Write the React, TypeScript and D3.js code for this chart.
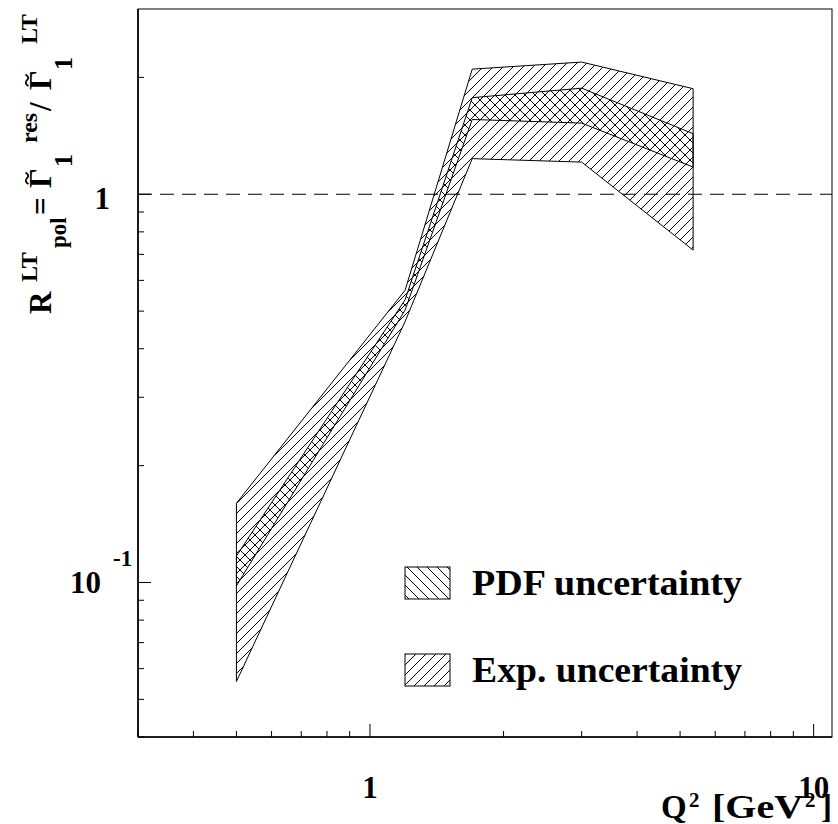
import React from 'react';
import * as d3 from 'd3';

// ---- data ----
const q2 = [0.5, 1.2, 1.7, 3.0, 5.35];
const expLow = [0.0556, 0.47, 1.235, 1.21, 0.718];
const expHigh = [0.16, 0.566, 2.1, 2.19, 1.87];
const pdfLow = [0.098, 0.503, 1.558, 1.525, 1.175];
const pdfHigh = [0.117, 0.535, 1.773, 1.876, 1.432];
const xMajor = [1, 10];
const yMajor = [0.1, 1];
const legendLabels = ['PDF uncertainty', 'Exp. uncertainty'];

const W = 838;
const H = 824;
const left = 138, right = 832, top = 9, bottom = 737;
const FONT = '"Liberation Serif", "Times New Roman", serif';

function tilde(u0: number, v0: number) {
  return `M${u0},${v0 + 1.5} Q${u0 + 2.8},${v0 - 3} ${u0 + 5.8},${v0} T${u0 + 11.6},${v0 - 1.5}`;
}

export default function App() {
  const x = d3.scaleLog().domain([0.3, 11]).range([left, right]);
  const y = d3.scaleLog().domain([0.04, 3]).range([bottom, top]);

  const xMinor: number[] = [];
  for (const d of [0.1, 1, 10]) for (let k = 1; k <= 9; k++) {
    const v = d * k;
    if (v >= 0.3 && v <= 11 && !xMajor.some((m) => Math.abs(m - v) < 1e-9)) xMinor.push(v);
  }
  const yMinor: number[] = [];
  for (const d of [0.01, 0.1, 1]) for (let k = 1; k <= 9; k++) {
    const v = d * k;
    if (v >= 0.04 && v < 3 && !yMajor.some((m) => Math.abs(m - v) < 1e-9)) yMinor.push(v);
  }

  const band = (lo: number[], hi: number[]) => {
    const pts: [number, number][] = [];
    q2.forEach((q, i) => pts.push([x(q), y(hi[i])]));
    for (let i = q2.length - 1; i >= 0; i--) pts.push([x(q2[i]), y(lo[i])]);
    return d3.line()(pts)! + 'Z';
  };

  return (
    <svg width={W} height={H} style={{ position: 'absolute', left: 0, top: 0, background: '#fff' }}>
      <defs>
        <pattern id="hExp" patternUnits="userSpaceOnUse" width="10" height="10">
          <path d="M-1,1 L1,-1 M0,10 L10,0 M9,11 L11,9" stroke="#000" strokeWidth={1} />
        </pattern>
        <pattern id="hPdf" patternUnits="userSpaceOnUse" width="10" height="10">
          <path d="M-1,9 L1,11 M0,0 L10,10 M9,-1 L11,1" stroke="#000" strokeWidth={1} />
        </pattern>
      </defs>
      <rect x={0} y={0} width={W} height={H} fill="#fff" />

      {/* bands */}
      <path d={band(expLow, expHigh)} fill="url(#hExp)" stroke="#000" strokeWidth={1} />
      <path d={band(pdfLow, pdfHigh)} fill="url(#hPdf)" stroke="#000" strokeWidth={1} />

      {/* dashed line at 1 */}
      <line x1={left} x2={right} y1={y(1)} y2={y(1)} stroke="#000" strokeWidth={1} strokeDasharray="14 8" />

      {/* frame */}
      <rect x={left} y={top} width={right - left} height={bottom - top} fill="none" stroke="#000" strokeWidth={1} />
      <line x1={left} x2={left} y1={top} y2={bottom} stroke="#000" strokeWidth={1.6} />
      <line x1={left} x2={right} y1={bottom} y2={bottom} stroke="#000" strokeWidth={1.6} />

      {/* x ticks */}
      {xMinor.map((v) => (
        <line key={'xm' + v} x1={x(v)} x2={x(v)} y1={bottom} y2={bottom - 6} stroke="#000" strokeWidth={1} />
      ))}
      {xMajor.map((v) => (
        <line key={'xM' + v} x1={x(v)} x2={x(v)} y1={bottom} y2={bottom - 13} stroke="#000" strokeWidth={1} />
      ))}
      {/* y ticks */}
      {yMinor.map((v) => (
        <line key={'ym' + v} x1={left} x2={left + 6} y1={y(v)} y2={y(v)} stroke="#000" strokeWidth={1} />
      ))}
      {yMajor.map((v) => (
        <line key={'yM' + v} x1={left} x2={left + 13} y1={y(v)} y2={y(v)} stroke="#000" strokeWidth={1} />
      ))}

      {/* x tick labels */}
      <g fontFamily={FONT} fontWeight="bold" fontSize={31} textAnchor="middle">
        {xMajor.map((v) => (
          <text key={'xl' + v} x={x(v)} y={798}>{String(v)}</text>
        ))}
      </g>
      {/* y tick labels */}
      <g fontFamily={FONT} fontWeight="bold">
        <text x={110} y={y(1) + 15} fontSize={31} textAnchor="end">1</text>
        <text x={101} y={y(0.1) + 11} fontSize={31} textAnchor="end">10</text>
        <text x={113} y={y(0.1) - 16} fontSize={23}>-1</text>
      </g>

      {/* x title: Q^2 [GeV^2] */}
      <g fontFamily={FONT} fontWeight="bold">
        <text x={661} y={818} fontSize={33}>Q</text>
        <text x={689} y={807} fontSize={21}>2</text>
        <text x={712} y={818} fontSize={33} textLength={91} lengthAdjust="spacingAndGlyphs">[GeV</text>
        <text x={805} y={807} fontSize={21}>2</text>
        <text x={832} y={818} fontSize={33} textAnchor="end">]</text>
      </g>

      {/* y title (rotated) */}
      <g transform="rotate(-90)" fontFamily={FONT} fontWeight="bold">
        <text x={-314} y={51} fontSize={31}>R</text>
        <text x={-282} y={37} fontSize={24}>LT</text>
        <text x={-248} y={66} fontSize={23}>pol</text>
        <text x={-215} y={51} fontSize={31}>=</text>
        <text x={-188} y={51} fontSize={31}>Γ</text>
        <path d={tilde(-184, 27)} fill="none" stroke="#000" strokeWidth={1.8} />
        <text x={-167} y={72} fontSize={26}>1</text>
        <text x={-143} y={37} fontSize={24}>res</text>
        <text x={-111} y={51} fontSize={31}>/</text>
        <text x={-90} y={51} fontSize={31}>Γ</text>
        <path d={tilde(-86, 27)} fill="none" stroke="#000" strokeWidth={1.8} />
        <text x={-70} y={72} fontSize={26}>1</text>
        <text x={-44} y={37} fontSize={24}>LT</text>
      </g>

      {/* legend */}
      {legendLabels.map((lab, i) => {
        const by = i === 0 ? 567 : 654;
        return (
          <g key={lab}>
            <rect x={405} y={by} width={45} height={32} fill={i === 0 ? 'url(#hPdf)' : 'url(#hExp)'} stroke="#000" strokeWidth={1} />
            <text x={472} y={by + 28} fontFamily={FONT} fontWeight="bold" fontSize={36}
              textLength={270} lengthAdjust="spacingAndGlyphs">{lab}</text>
          </g>
        );
      })}
    </svg>
  );
}
